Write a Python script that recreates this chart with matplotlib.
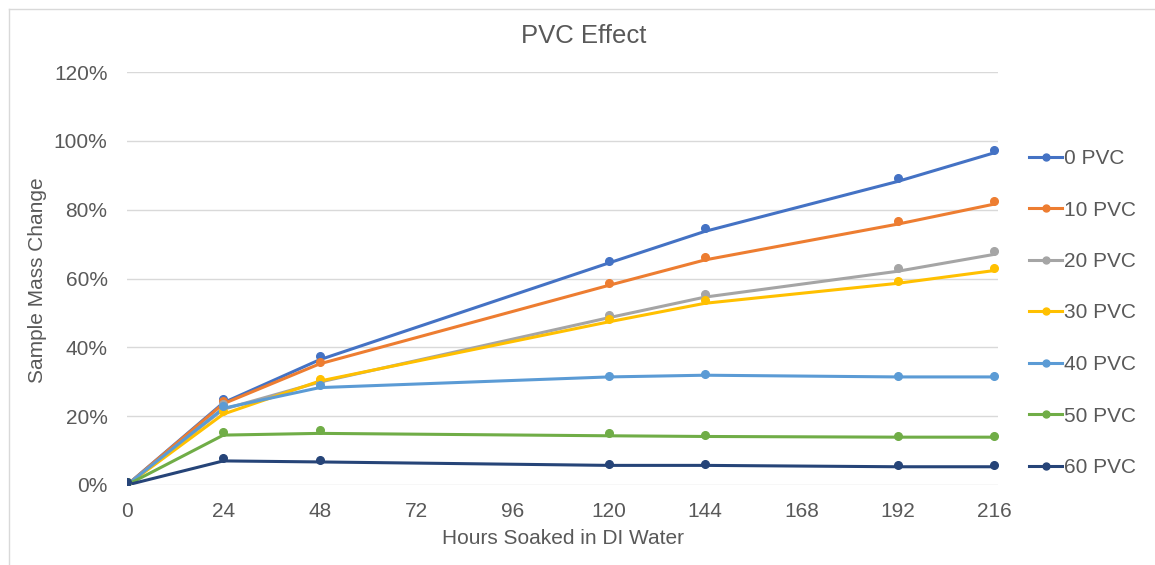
import matplotlib
matplotlib.use("Agg")
import matplotlib.pyplot as plt
from matplotlib.lines import Line2D

plt.rcParams['font.family'] = ['Liberation Sans', 'DejaVu Sans']

hours = [0, 24, 48, 120, 144, 192, 216]
series_names = ["0 PVC", "10 PVC", "20 PVC", "30 PVC", "40 PVC", "50 PVC", "60 PVC"]
colors = ["#4472C4", "#ED7D31", "#A5A5A5", "#FFC000", "#5B9BD5", "#70AD47", "#264478"]

# measured points (markers), percent
pvc0_pts = [0.8, 25.1, 37.4, 65.2, 74.8, 89.1, 97.4]
pvc10_pts = [0.8, 24.3, 35.7, 58.7, 66.2, 76.8, 82.4]
pvc20_pts = [0.8, 23.5, 30.2, 49.4, 55.5, 63.1, 67.9]
pvc30_pts = [0.8, 21.5, 30.9, 48.1, 53.8, 59.4, 63.1]
pvc40_pts = [0.8, 23.0, 29.2, 31.7, 32.2, 31.6, 31.6]
pvc50_pts = [0.8, 15.5, 15.9, 15.1, 14.6, 14.2, 14.2]
pvc60_pts = [0.8, 7.8, 7.2, 6.2, 6.2, 5.7, 5.7]

# connecting lines, percent
pvc0_line = [0.0, 23.9, 36.4, 64.5, 73.7, 88.2, 96.5]
pvc10_line = [0.0, 23.6, 35.2, 58.0, 65.4, 75.8, 81.6]
pvc20_line = [0.0, 22.0, 29.9, 48.6, 54.6, 62.1, 67.0]
pvc30_line = [0.0, 20.6, 30.2, 47.4, 52.8, 58.6, 62.3]
pvc40_line = [0.0, 22.3, 28.3, 31.4, 31.9, 31.4, 31.4]
pvc50_line = [0.0, 14.5, 15.0, 14.3, 14.1, 13.9, 13.9]
pvc60_line = [0.0, 7.0, 6.7, 5.7, 5.7, 5.3, 5.3]

pts = [pvc0_pts, pvc10_pts, pvc20_pts, pvc30_pts, pvc40_pts, pvc50_pts, pvc60_pts]
lines = [pvc0_line, pvc10_line, pvc20_line, pvc30_line, pvc40_line, pvc50_line, pvc60_line]

xticks = [0, 24, 48, 72, 96, 120, 144, 168, 192, 216]
yticks = [0, 20, 40, 60, 80, 100, 120]
ytick_labels = ["0%", "20%", "40%", "60%", "80%", "100%", "120%"]

W, H = 1155, 565
fig = plt.figure(figsize=(W / 100, H / 100), dpi=100)
ax = fig.add_axes([127 / W, 1 - 485 / H, (998 - 127) / W, (485 - 72) / H])

txt = "#595959"
fs = 15
for name, c, p, l in zip(series_names, colors, pts, lines):
    ax.plot(hours, l, color=c, lw=2.2, solid_capstyle='round', zorder=3)
    ax.plot(hours, p, 'o', color=c, ms=5.5, zorder=4)

ax.set_xlim(0, 217)
ax.set_ylim(0, 120)
ax.set_xticks(xticks)
ax.set_xticklabels([str(x) for x in xticks])
ax.set_yticks(yticks)
ax.set_yticklabels(ytick_labels)
ax.grid(axis='y', color="#D9D9D9", lw=1)
ax.set_axisbelow(True)
for s in ax.spines.values():
    s.set_visible(False)
ax.tick_params(length=0, labelsize=fs, colors=txt)
ax.tick_params(axis='x', pad=12)
ax.tick_params(axis='y', pad=14)

fig.text(563 / W, 1 - 538 / H, "Hours Soaked in DI Water", fontsize=fs, color=txt,
         ha='center', va='center')
fig.text(38 / W, 1 - 280 / H, "Sample Mass Change", fontsize=fs, color=txt,
         ha='center', va='center', rotation=90)
fig.text(584 / W, 1 - 36 / H, "PVC Effect", fontsize=18.5, color=txt,
         ha='center', va='center')

handles = [Line2D([0], [0], color=c, lw=2.2, marker='o', ms=5) for c in colors]
leg = fig.legend(handles, series_names, loc='upper left', bbox_to_anchor=(1029 / W, 1 - 149 / H),
                 frameon=False, fontsize=fs, labelcolor=txt, handlelength=1.6, handletextpad=0.1,
                 labelspacing=1.56, borderaxespad=0, borderpad=0)

# chart-area border (top and left edges visible)
fig.add_artist(Line2D([9 / W, 1.0], [1 - 9 / H, 1 - 9 / H], transform=fig.transFigure,
                      color="#D9D9D9", lw=1))
fig.add_artist(Line2D([9 / W, 9 / W], [0.0, 1 - 9 / H], transform=fig.transFigure,
                      color="#D9D9D9", lw=1))
fig.savefig("out.png", dpi=100)
